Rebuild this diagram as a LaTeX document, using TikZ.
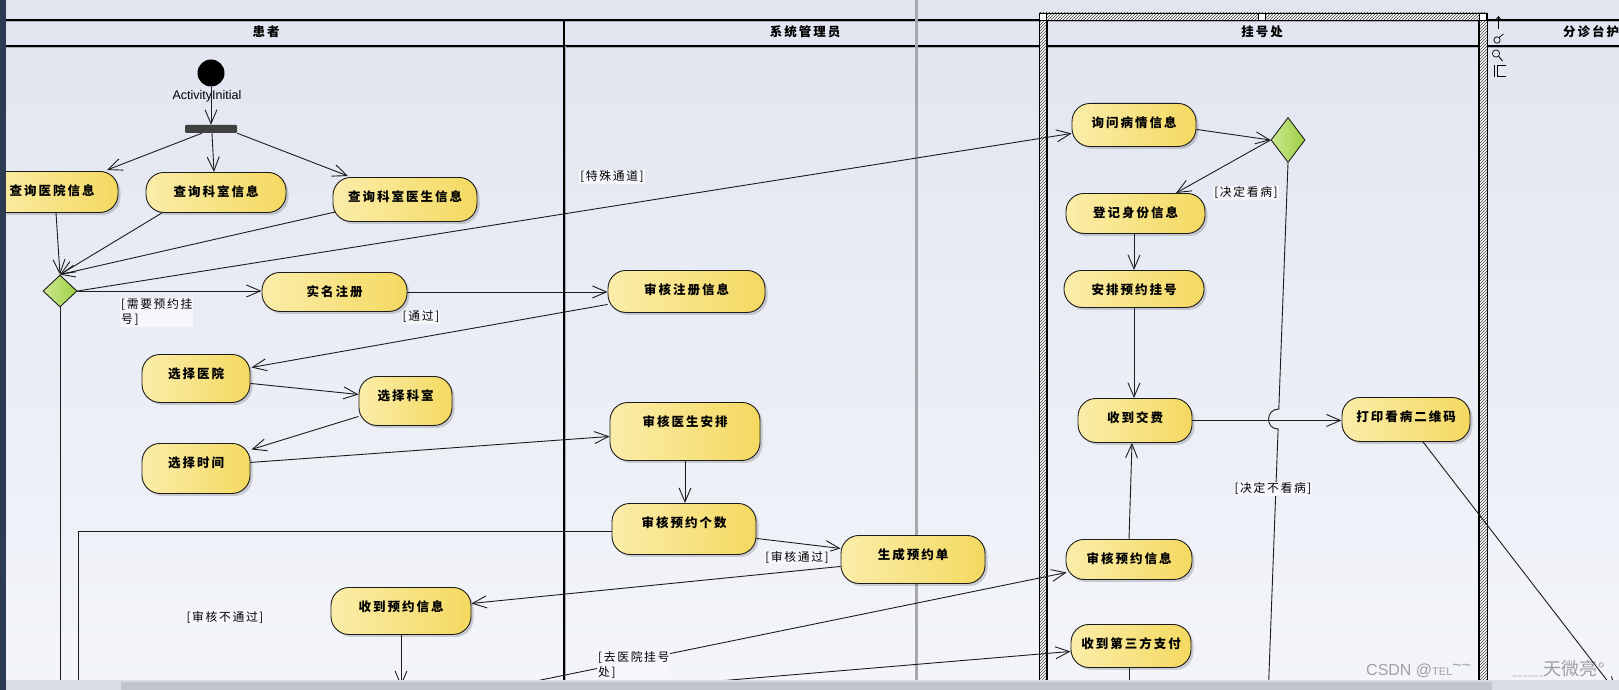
\documentclass[tikz,border=0pt]{standalone}
\usepackage{fontspec}
\usetikzlibrary{arrows.meta,shapes.geometric,shadows,patterns,calc}
\newfontfamily\cjk[LetterSpace=16]{Noto Sans CJK SC}
\newfontfamily\cjkg[LetterSpace=14]{Noto Sans CJK SC}
\newfontfamily\cjkw{Noto Sans CJK SC}
\newfontfamily\lsans{Liberation Sans}
\definecolor{bgtop}{RGB}{225,229,240}
\definecolor{bgbot}{RGB}{243,245,250}
\definecolor{actL}{RGB}{251,237,170}
\definecolor{actR}{RGB}{244,217,96}
\definecolor{decL}{RGB}{204,232,146}
\definecolor{decR}{RGB}{158,208,66}
\definecolor{navy}{RGB}{44,58,82}
\definecolor{pgline}{RGB}{166,168,174}
\definecolor{edgec}{RGB}{28,28,28}
\definecolor{shadec}{RGB}{172,176,186}
\definecolor{track}{RGB}{216,220,229}
\definecolor{thumbc}{RGB}{192,196,204}
\definecolor{wmc}{RGB}{158,160,166}
\definecolor{forkc}{RGB}{64,64,64}
\definecolor{guardbg}{RGB}{246,247,251}
\begin{document}
\begin{tikzpicture}[x=1pt,y=-1pt,
  act/.style={draw=edgec, line width=0.9pt, rounded corners=18pt,
    left color=actL, right color=actR, inner xsep=0pt, inner ysep=0pt,
    text height=24pt, text depth=#1, anchor=north,
    font=\cjk\bfseries\fontsize{12.5}{14}\selectfont,
    drop shadow={shadow xshift=2.5pt, shadow yshift=-2.5pt, fill=black, opacity=0.16}},
  dec/.style={diamond, draw=edgec, line width=0.9pt, left color=decL, right color=decR,
    inner sep=0pt, minimum width=34pt},
  arr/.style={draw=edgec, line width=0.9pt, -{Straight Barb[length=14pt,width=12pt,line width=0.9pt]}},
  ln/.style={draw=edgec, line width=0.9pt},
  guard/.style={font=\cjkg\fontsize{11.8}{15}\selectfont, inner sep=1pt, fill=guardbg},
  hdr/.style={font=\cjk\bfseries\fontsize{12.5}{14}\selectfont, inner sep=0pt},
  laneline/.style={draw=black, line width=1.2pt},
  laneshade/.style={draw=shadec, line width=1pt},
  hatchband/.style={fill=white, postaction={pattern=north east lines, pattern color=black!75}},
]
\useasboundingbox (0,0) rectangle (1619,690);
\begin{scope}
\clip (0,0) rectangle (1619,690);
% background
\fill[top color=bgtop, bottom color=bgbot] (0,0) rectangle (1619,690);

% swimlane lines
\draw[laneshade] (6,21.8) -- (1619,21.8);
\draw[laneshade] (6,47.8) -- (1619,47.8);
\draw[laneline] (6,20) -- (1619,20);
\draw[laneline] (6,46) -- (1619,46);
\draw[laneshade] (565.8,46) -- (565.8,680);
\draw[laneline] (564,20) -- (564,680);
\draw[laneline] (1047,20) -- (1047,680);
\draw[laneline] (1479,20) -- (1479,680);

% page break line
\draw[draw=pgline, line width=3pt] (916,0) -- (916,680);

% lane headers
\node[hdr] (h1) at (266,32) {患者};
\node[hdr] (h2) at (805,32) {系统管理员};
\node[hdr] (h3) at (1262,32) {挂号处};
\node[hdr, anchor=west] (h4) at (1563,32) {分诊台护};

% watermark (under the hatch)
\node[anchor=west, inner sep=0pt, text=wmc, font=\lsans\fontsize{16}{16}\selectfont] (wm1) at (1366,671)
  {CSDN @{\fontsize{11}{11}\selectfont TEL}\raisebox{5pt}{\textasciitilde\textasciitilde}};
\node[anchor=east, inner sep=0pt, text=wmc, font=\cjkw\fontsize{18}{18}\selectfont] (wm2) at (1605,670)
  {{\lsans\fontsize{9}{9}\selectfont\raisebox{-4pt}{\textasciitilde\textasciitilde\textasciitilde\textasciitilde\textasciitilde\textasciitilde}}天微亮{\lsans°}};

% selected lane hatch frame
\path[hatchband] (1039,13) rectangle (1047,680);
\path[hatchband] (1479,13) rectangle (1487,680);
\path[hatchband] (1039,13) rectangle (1487,20);
\draw[line width=0.4pt] (1039,13) rectangle (1487,680);
\draw[line width=0.4pt] (1047,20) -- (1479,20);
\draw[laneline] (1047,20) -- (1047,680);
\draw[laneline] (1479,20) -- (1479,680);
\draw[fill=white, line width=0.7pt] (1039.5,13) rectangle (1046.5,20);
\draw[fill=white, line width=0.7pt] (1258.5,13) rectangle (1265.5,20);
\draw[fill=white, line width=0.7pt] (1479.5,13) rectangle (1486.5,20);

% little toolbar icons
\draw[line width=0.8pt, -{Straight Barb[length=3pt,width=5pt]}] (1498.5,29) -- (1498.5,16);
\draw[line width=0.7pt] (1497,40) circle (3.2);
\draw[line width=0.7pt] (1499,37.5) -- (1503.5,34);
\draw[line width=0.7pt] (1496,53.5) circle (3.6);
\draw[line width=0.9pt] (1498.8,56.5) -- (1502.5,61);
\draw[line width=0.7pt] (1494,65) -- (1494,77);
\draw[line width=0.7pt] (1506,65.5) -- (1497,65.5) -- (1497,76.5) -- (1506,76.5);

% initial node, fork
\node[circle, fill=black, minimum size=27pt, inner sep=0pt] (init) at (211,73) {};
\node[font=\lsans\fontsize{12.5}{14}\selectfont, inner sep=0pt] (initlbl) at (207,96) {ActivityInitial};
\node[fill=forkc, minimum width=52pt, minimum height=8pt, inner sep=0pt, rounded corners=1pt] (fork) at (211,129) {};

% decisions
\node[dec, minimum height=32pt] (dia1) at (60,291) {};
\node[dec, minimum height=45pt] (dia2) at (1288,140) {};

% activities
\node[act=17pt, minimum width=132pt] (nhosp) at (52,171) {查询医院信息};
\node[act=16pt, minimum width=140pt] (ndept) at (216,172) {查询科室信息};
\node[act=20pt, minimum width=144pt] (ndoc) at (405,177) {查询科室医生信息};
\node[act=15pt, minimum width=145pt] (nreg) at (334.5,272) {实名注册};
\node[act=18pt, minimum width=157pt] (nchkreg) at (686.5,270) {审核注册信息};
\node[act=24pt, minimum width=108pt] (nselh) at (196,354) {选择医院};
\node[act=25pt, minimum width=93pt] (nseld) at (405.5,376) {选择科室};
\node[act=26pt, minimum width=108pt] (nselt) at (196,443) {选择时间};
\node[act=34pt, minimum width=150pt] (nchkdoc) at (685,402) {审核医生安排};
\node[act=27pt, minimum width=144pt] (nchkcnt) at (684,503) {审核预约个数};
\node[act=24pt, minimum width=144pt] (ngen) at (913,535) {生成预约单};
\node[act=23pt, minimum width=140pt] (nrecv) at (401,587) {收到预约信息};
\node[act=19pt, minimum width=124pt] (nask) at (1134,103) {询问病情信息};
\node[act=16pt, minimum width=139pt] (nid) at (1135.5,193) {登记身份信息};
\node[act=13pt, minimum width=140pt] (narr) at (1134,270) {安排预约挂号};
\node[act=20pt, minimum width=114pt] (npay) at (1135,398) {收到交费};
\node[act=20pt, minimum width=128pt] (nprint) at (1406,397) {打印看病二维码};
\node[act=16pt, minimum width=126pt] (nchkapp) at (1129,539) {审核预约信息};
\node[act=19pt, minimum width=120pt] (nthird) at (1131,624) {收到第三方支付};

% free ends (below the visible area)
\coordinate (rejEnd) at (78,720);
\coordinate (diaEnd) at (60,720);
\coordinate (recvEnd) at (401,686);
\coordinate (srcA) at (443,700);
\coordinate (srcB) at (492,700);
\coordinate (noEnd) at (1268,700);
\coordinate (printEnd) at (1616,692);
\coordinate (thirdEnd) at (1129,700);

% connectors
\draw[arr] (init.south) -- (fork.north);
\draw[arr] ([xshift=-9pt]fork.south) -- ([xshift=55pt,yshift=1pt]nhosp.north);
\draw[arr] ([xshift=1pt]fork.south) -- ([xshift=-2pt]ndept.north);
\draw[arr] (fork.south east) -- ([xshift=-57pt,yshift=1pt]ndoc.north);
\draw[arr] ([xshift=4pt]nhosp.south) -- (dia1.north);
\draw[arr] ([xshift=-54pt]ndept.south) -- (dia1.north);
\draw[arr] ([xshift=3pt,yshift=10pt]ndoc.south west) -- (dia1.north);
\draw[arr] (dia1.east) -- ([yshift=-8.5pt]nask.west);
\draw[arr] (dia1.east) -- (dia1.east -| nreg.west);
\draw[arr] (nreg.east) -- (nreg.east -| nchkreg.west);
\draw[arr] ([yshift=-13pt]nchkreg.west) -- ([xshift=1pt,yshift=11pt]nselh.east);
\draw[arr] ([yshift=-5pt]nselh.east) -- ([yshift=6.5pt]nseld.west);
\draw[arr] ([yshift=-15.5pt]nseld.west) -- ([xshift=1pt,yshift=19pt]nselt.east);
\draw[arr] ([yshift=6pt]nselt.east) -- ([yshift=-5pt]nchkdoc.west);
\draw[arr] (nchkdoc.south) -- (nchkdoc.south |- nchkcnt.north);
\draw[arr] ([yshift=-9.5pt]nchkcnt.east) -- ([yshift=11pt]ngen.west);
\draw[arr] ([yshift=-7pt]ngen.west) -- ([yshift=7.5pt]nrecv.east);
\draw[ln] ([yshift=-2.5pt]nchkcnt.west) -| (rejEnd);
\draw[ln] (dia1.south) -- (diaEnd);
\draw[arr] (nrecv.south) -- (recvEnd);
\draw[arr] (srcA) -- ([xshift=1pt,yshift=-13pt]nchkapp.west);
\draw[arr] (srcB) -- ([yshift=-5.5pt]nthird.west);
\draw[arr] ([yshift=-4.5pt]nask.east) -- (dia2.west);
\draw[arr] (dia2.west) -- ([xshift=40.5pt]nid.north);
\draw[ln] (dia2.south) -- (1278.8,409) .. controls (1265.5,409) and (1265,429) .. (1278.1,429) -- (noEnd);
\draw[arr] (narr.north |- nid.south) -- (narr.north);
\draw[arr] (narr.south) -- (narr.south |- npay.north);
\draw[arr] (npay.east) -- (npay.east -| nprint.west);
\draw[arr] (nchkapp.north) -- ([xshift=-3pt]npay.south);
\draw[arr] ([xshift=17pt]nprint.south) -- (printEnd);
\draw[ln] ([xshift=-2pt]nthird.south) -- (thirdEnd);

% guards
\node[guard] (g1) at (612,177) {[特殊通道]};
\node[guard, anchor=north west, align=left] (g2) at (120,297.5) {[需要预约挂\\号]};
\node[guard] (g3) at (421,317) {[通过]};
\node[guard] (g4) at (797,557) {[审核通过]};
\node[guard] (g5) at (225,617) {[审核不通过]};
\node[guard, anchor=north west, align=left] (g6) at (597,650) {[去医院挂号\\处]};
\node[guard] (g7) at (1246,193) {[决定看病]};
\node[guard] (g8) at (1273,489) {[决定不看病]};

% scrollbar and window border
\fill[track] (6,680) rectangle (1619,690);
\fill[thumbc] (121,682) rectangle (1492,690);
\fill[navy] (0,0) rectangle (6.4,690);
\end{scope}
\end{tikzpicture}
\end{document}
